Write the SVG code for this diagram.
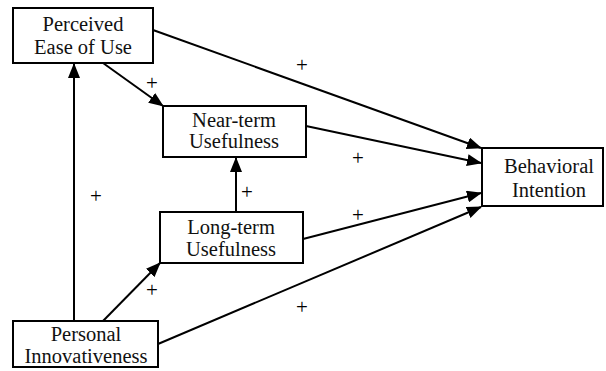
<svg xmlns="http://www.w3.org/2000/svg" width="606" height="371" viewBox="0 0 606 371">
<style>
.box{fill:#fff;stroke:#000;stroke-width:2}
.lbl{font-family:"Liberation Serif","Times New Roman",serif;font-size:20.5px;fill:#111;text-anchor:middle}
.plus{font-family:"Liberation Serif","Times New Roman",serif;font-size:21px;fill:#000;text-anchor:middle}
.edge{stroke:#000;stroke-width:2;fill:none;marker-end:url(#ah)}
</style>
<defs>
<marker id="ah" markerUnits="userSpaceOnUse" markerWidth="15" markerHeight="12" refX="14" refY="6" orient="auto">
<path d="M0,0 L15,6 L0,12 z" fill="#000"/>
</marker>
</defs>
<rect width="606" height="371" fill="#fff"/>
<g id="connectors">
<line class="edge" x1="74" y1="321" x2="74" y2="64"/>
<line class="edge" x1="103" y1="63" x2="163" y2="106"/>
<line class="edge" x1="153" y1="30" x2="481" y2="148"/>
<line class="edge" x1="306" y1="126" x2="481" y2="163"/>
<line class="edge" x1="236" y1="212" x2="236" y2="158"/>
<line class="edge" x1="103" y1="321" x2="160" y2="263"/>
<line class="edge" x1="303" y1="239" x2="481" y2="193"/>
<line class="edge" x1="158" y1="344" x2="481" y2="207"/>
</g>
<g id="labels">
<text class="plus" x="302" y="72">+</text>
<text class="plus" x="152" y="90">+</text>
<text class="plus" x="358" y="165">+</text>
<text class="plus" x="358" y="222">+</text>
<text class="plus" x="247" y="199">+</text>
<text class="plus" x="96" y="203">+</text>
<text class="plus" x="152" y="297">+</text>
<text class="plus" x="302" y="314">+</text>
</g>
<g id="peu">
<rect class="box" x="13" y="8" width="140" height="55"/>
<text class="lbl" x="83" y="31">Perceived</text>
<text class="lbl" x="83" y="54">Ease of Use</text>
</g>
<g id="nt">
<rect class="box" x="163" y="106" width="143" height="51"/>
<text class="lbl" x="234" y="127">Near-term</text>
<text class="lbl" x="234" y="148">Usefulness</text>
</g>
<g id="bi">
<rect class="box" x="482" y="148" width="121" height="58"/>
<text class="lbl" x="549" y="173">Behavioral</text>
<text class="lbl" x="549" y="197">Intention</text>
</g>
<g id="lt">
<rect class="box" x="160" y="212" width="143" height="51"/>
<text class="lbl" x="231" y="234">Long-term</text>
<text class="lbl" x="231" y="256">Usefulness</text>
</g>
<g id="pi">
<rect class="box" x="13" y="321" width="145" height="46"/>
<text class="lbl" x="86" y="341">Personal</text>
<text class="lbl" x="86" y="363">Innovativeness</text>
</g>
</svg>
